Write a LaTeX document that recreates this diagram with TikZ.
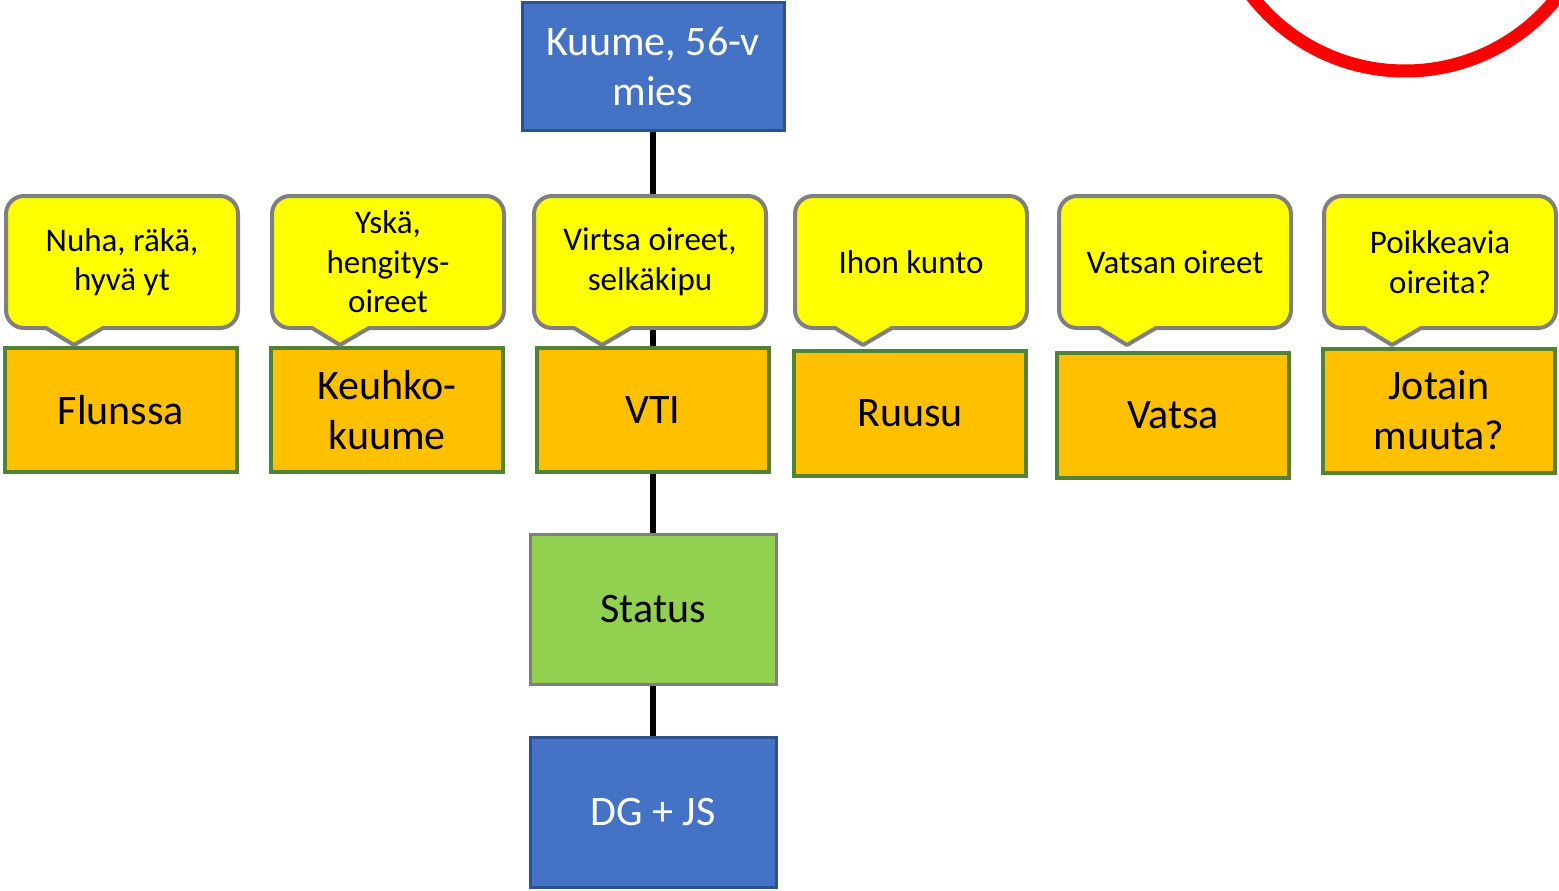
\documentclass[tikz,border=0pt]{standalone}
\usepackage{fontspec}
\setmainfont{Carlito}
\usetikzlibrary{positioning}
\definecolor{boxblue}{HTML}{4472C4}
\definecolor{edgeblue}{HTML}{2F528F}
\definecolor{boxorange}{HTML}{FFC000}
\definecolor{edgegreen}{HTML}{538135}
\definecolor{boxgreen}{HTML}{92D050}
\definecolor{edgegray}{HTML}{7F7F7F}
\definecolor{bubble}{HTML}{FFFF00}
\newcommand{\callbox}[3]{%
  \draw[callout] (#2+40,328) [rounded corners=18pt] -- (#2,328) -- (#2,196) -- (#2+232,196)
    -- (#2+232,328) [sharp corners] -- (#2+97,328) -- (#2+68,345) -- cycle;
  \node[calltext] (#1) at (#2+116,262) {#3};}

\begin{document}
\begin{tikzpicture}[x=1pt,y=-1pt,
  bluebox/.style={draw=edgeblue,line width=3pt,fill=boxblue,text=white,align=center,
    font=\fontsize{42}{50}\selectfont,minimum width=246pt,minimum height=150pt},
  dxbox/.style={draw=edgegreen,line width=4pt,fill=boxorange,align=center,
    font=\fontsize{42}{50}\selectfont,minimum width=232pt,minimum height=124pt},
  callout/.style={draw=edgegray,line width=4pt,fill=bubble,line join=round},
  calltext/.style={align=center,font=\fontsize{33}{39.5}\selectfont},
  link/.style={line width=6pt}]
\clip (0,0) rectangle (1559,891);
\draw[red,line width=13pt] (1405,-123) circle (194pt);
\node[bluebox,minimum width=262pt,minimum height=127pt] (fever) at (653,66.5){Kuume, 56-v\\mies};
\node[dxbox] (flu) at (121,410){Flunssa};
\node[dxbox] (pneu) at (387,410){Keuhko-\\kuume};
\node[dxbox] (uti) at (653,410){VTI};
\node[dxbox,minimum height=125pt] (rose) at (910,413.5){Ruusu};
\node[dxbox,minimum height=125pt] (abd) at (1173,415.5){Vatsa};
\node[dxbox] (other) at (1439,410.5){Jotain\\muuta?};
\node[draw=edgegray,line width=3pt,fill=boxgreen,font=\fontsize{42}{50}\selectfont,
  minimum width=246pt,minimum height=150pt] (status) at (653,609){Status};
\node[bluebox] (dgjs) at (653,812){DG + JS};
\draw[link] (fever)--(uti);
\draw[link] (uti)--(status);
\draw[link] (status)--(dgjs);
% symptom bubbles
\callbox{flunote}{6}{Nuha, räkä,\\hyvä yt}
\callbox{pneunote}{272}{Yskä,\\hengitys-\\oireet}
\callbox{utinote}{534}{Virtsa oireet,\\selkäkipu}
\callbox{rosenote}{795}{Ihon kunto}
\callbox{abdnote}{1059}{Vatsan oireet}
\callbox{othernote}{1324}{Poikkeavia\\oireita?}
\end{tikzpicture}
\end{document}
